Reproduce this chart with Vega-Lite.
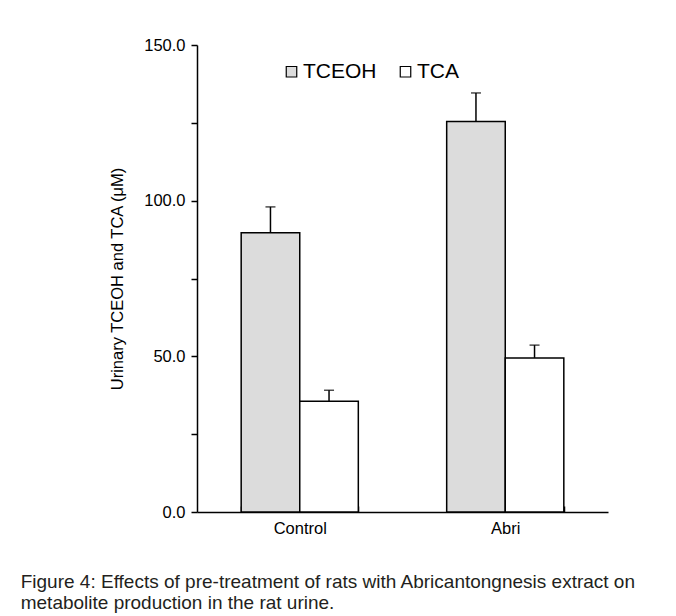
{
  "$schema": "https://vega.github.io/schema/vega-lite/v6.json",
  "autosize": {"type": "none"},
  "padding": {"left": 197, "top": 45, "right": 68, "bottom": 104},
  "width": 411,
  "height": 467,
  "background": "white",
  "config": {"font": "Liberation Sans", "view": {"stroke": null}},
  "title": {
    "text": ["Figure 4: Effects of pre-treatment of rats with Abricantongnesis extract on", "metabolite production in the rat urine."],
    "orient": "bottom", "anchor": "start", "align": "left", "dx": -89, "offset": 36,
    "fontSize": 19, "fontWeight": "normal", "color": "#231f20", "lineHeight": 21
  },
  "data": {"values": [
    {"group": "Control", "series": "TCEOH", "value": 89.7, "upper": 98},
    {"group": "Control", "series": "TCA", "value": 35.6, "upper": 39.1},
    {"group": "Abri", "series": "TCEOH", "value": 125.4, "upper": 134.6},
    {"group": "Abri", "series": "TCA", "value": 49.5, "upper": 53.6}
  ]},
  "encoding": {
    "x": {"field": "group", "type": "nominal", "sort": ["Control", "Abri"],
      "scale": {"paddingInner": 0.43, "paddingOuter": 0.215},
      "axis": {"title": null, "labelAngle": 0, "labelFontSize": 16.5, "labelColor": "black", "labelPadding": 14,
        "tickBand": "extent", "tickSize": -6, "tickColor": "black", "domainColor": "black", "domainWidth": 1.5, "tickWidth": 1.5}},
    "xOffset": {"field": "series", "type": "nominal", "sort": ["TCEOH", "TCA"], "scale": {"paddingInner": 0}}
  },
  "layer": [
    {
      "mark": {"type": "rule", "stroke": "black", "strokeWidth": 1.5},
      "encoding": {"y": {"field": "value", "type": "quantitative"}, "y2": {"field": "upper"}}
    },
    {
      "mark": {"type": "tick", "orient": "horizontal", "size": 10, "thickness": 1.5, "color": "black"},
      "encoding": {"y": {"field": "upper", "type": "quantitative"}}
    },
    {
      "mark": {"type": "bar", "stroke": "black", "strokeWidth": 1.5},
      "encoding": {
        "y": {"field": "value", "type": "quantitative",
          "scale": {"domain": [0, 150], "nice": false},
          "axis": {"title": "Urinary TCEOH and TCA (μM)", "titleFontSize": 16.5, "titleFontWeight": "normal", "titleColor": "black", "titlePadding": 18,
            "values": [0, 25, 50, 75, 100, 125, 150], "labelExpr": "datum.value % 50 == 0 ? format(datum.value, '.1f') : ''",
            "labelFontSize": 16.5, "labelColor": "black", "grid": false, "tickSize": 6, "tickColor": "black", "tickWidth": 1.5,
            "domainColor": "black", "domainWidth": 1.5, "labelPadding": 6}},
        "fill": {"field": "series", "type": "nominal",
          "scale": {"domain": ["TCEOH", "TCA"], "range": ["#dcdcdc", "white"]},
          "legend": {"title": null, "orient": "none", "legendX": 84, "legendY": 16, "direction": "horizontal",
            "symbolType": "square", "symbolSize": 110, "symbolStrokeColor": "black", "symbolStrokeWidth": 1.2,
            "labelFontSize": 21, "labelColor": "black", "labelOffset": 1, "columnPadding": 18}}
      }
    }
  ]
}
